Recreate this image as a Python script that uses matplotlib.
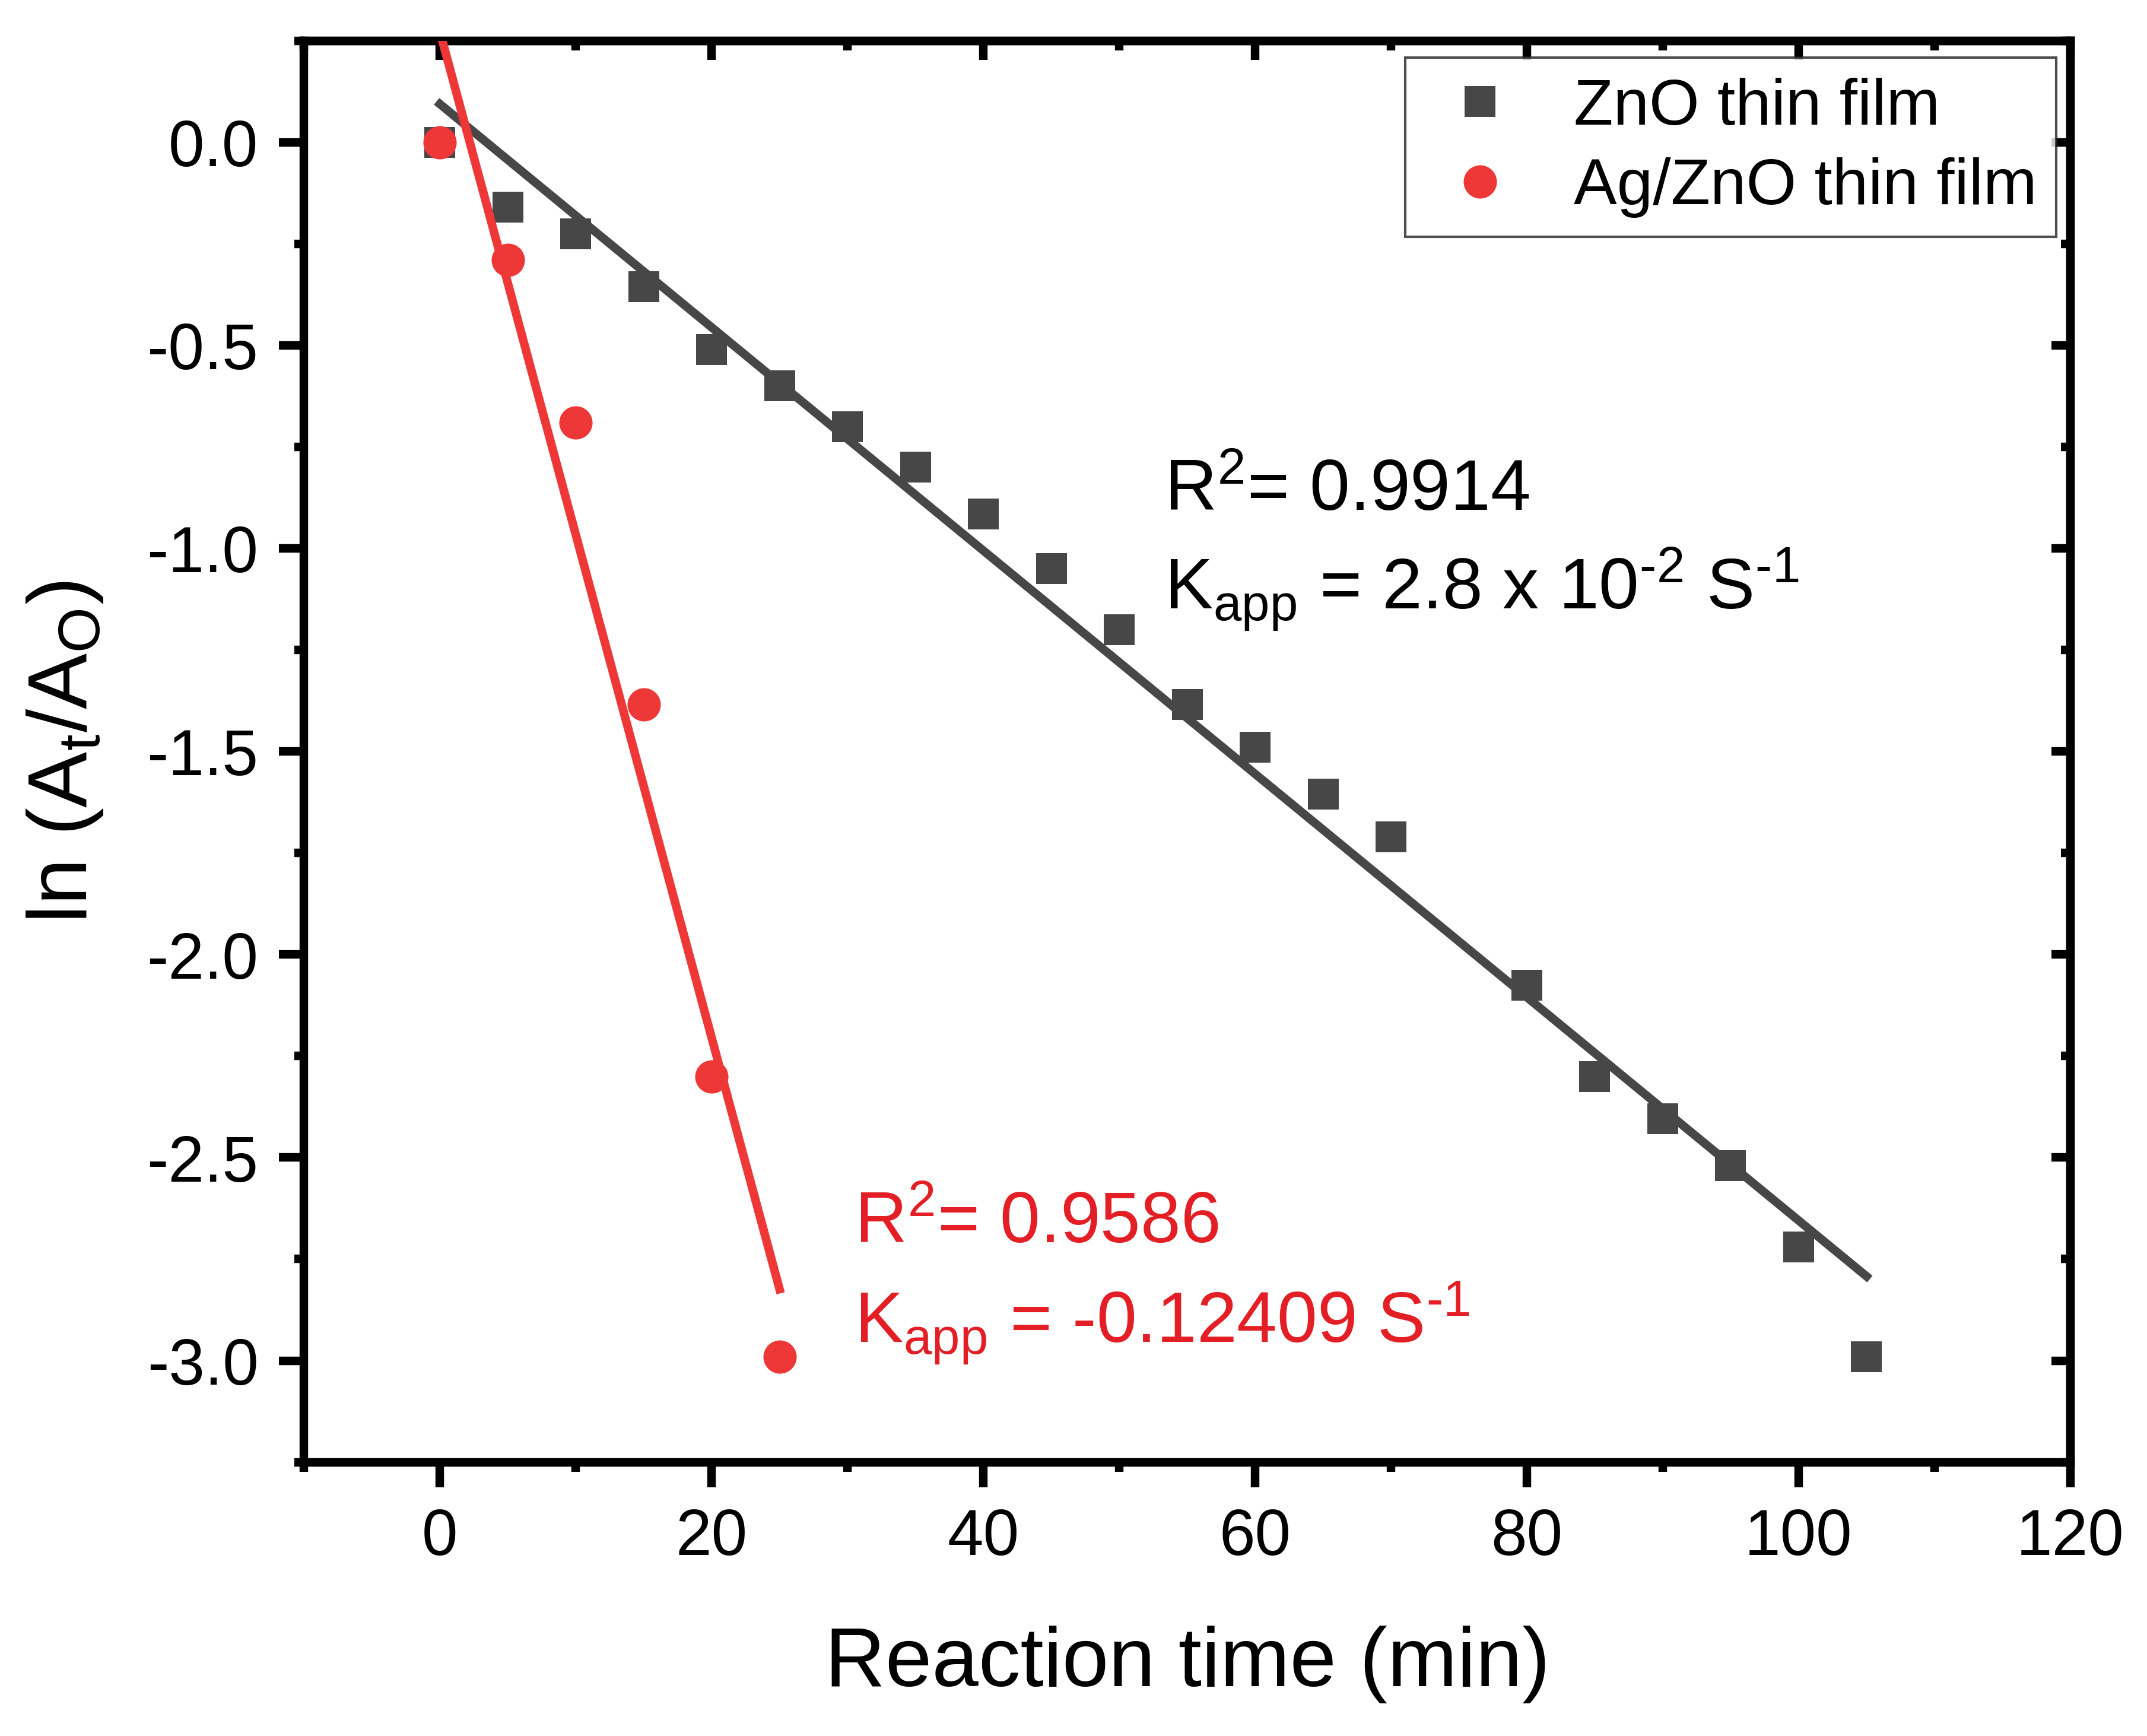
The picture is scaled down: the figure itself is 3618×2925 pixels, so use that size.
import numpy as np
import matplotlib
matplotlib.use('Agg')
from matplotlib import pyplot as plt
from matplotlib.ticker import MultipleLocator

# data
time_zno = [0, 5, 10, 15, 20, 25, 30, 35, 40, 45, 50, 55, 60, 65, 70,
            80, 85, 90, 95, 100, 105]
ln_zno = [0.0, -0.16, -0.225, -0.355, -0.51, -0.60, -0.70, -0.80, -0.915, -1.05,
          -1.20, -1.385, -1.49, -1.605, -1.71, -2.075, -2.30, -2.405, -2.52,
          -2.72, -2.99]

time_ag = [0, 5, 10, 15, 20, 25]
ln_ag = [0.0, -0.29, -0.69, -1.385, -2.30, -2.99]

labels = ['ZnO thin film', 'Ag/ZnO thin film']

# U+2010 hyphen so the exponents keep a short dash like the original
txt_zno = [r'R$^{2}$= 0.9914', 'K$_{app}$ = 2.8 x 10$^{\u20102}$ S$^{\u20101}$']
txt_ag = [r'R$^{2}$= 0.9586', 'K$_{app}$ = -0.12409 S$^{\u20101}$']

gray = '#474747'
red = '#ee3838'
red_txt = '#e41e25'

plt.rcParams['font.family'] = ['Liberation Sans', 'DejaVu Sans']
plt.rcParams['mathtext.default'] = 'regular'
plt.rcParams['axes.unicode_minus'] = False

fig = plt.figure(figsize=(15.68, 12.68))
ax = fig.add_axes([0.1416, 0.1577, 0.8227, 0.8186])

# linear fits
p_zno = np.polyfit(time_zno, ln_zno, 1)
p_ag = np.polyfit(time_ag, ln_ag, 1)
xf_zno = np.array([time_zno[0], time_zno[-1]])
xf_ag = np.array([time_ag[0], time_ag[-1]])

ax.plot(time_zno, ln_zno, 's', color=gray, ms=16, mew=0, label=labels[0], zorder=3)
ax.plot(xf_zno, np.polyval(p_zno, xf_zno), '-', color=gray, lw=4.5, zorder=3)
ax.plot(time_ag, ln_ag, 'o', color=red, ms=17.5, mew=0, label=labels[1], zorder=4)
ax.plot(xf_ag, np.polyval(p_ag, xf_ag), '-', color=red, lw=4.5, zorder=4)

ax.text(53.3, -0.905, txt_zno[0], fontsize=38, color='black', va='baseline')
ax.text(53.3, -1.149, txt_zno[1], fontsize=38, color='black', va='baseline')
ax.text(30.5, -2.708, txt_ag[0], fontsize=38, color=red_txt, va='baseline')
ax.text(30.5, -2.955, txt_ag[1], fontsize=38, color=red_txt, va='baseline')

ax.set_xlim(-10, 120)
ax.set_ylim(-3.25, 0.25)
ax.xaxis.set_major_locator(MultipleLocator(20))
ax.xaxis.set_minor_locator(MultipleLocator(10))
ax.yaxis.set_major_locator(MultipleLocator(0.5))
ax.yaxis.set_minor_locator(MultipleLocator(0.25))
ax.yaxis.set_major_formatter(matplotlib.ticker.FormatStrFormatter('%.1f'))

for s in ax.spines.values():
    s.set_linewidth(4.5)

ax.tick_params(which='major', direction='out', length=13, width=4.5,
               labelsize=34, pad=11)
ax.tick_params(which='minor', direction='out', length=5, width=4.5)

# inward ticks on top and right
top = ax.secondary_xaxis('top')
top.xaxis.set_major_locator(MultipleLocator(20))
top.xaxis.set_minor_locator(MultipleLocator(10))
top.tick_params(which='major', direction='in', length=10, width=4.5, labeltop=False)
top.tick_params(which='minor', direction='in', length=5, width=4.5)
top.spines['top'].set_linewidth(4.5)

right = ax.secondary_yaxis('right')
right.yaxis.set_major_locator(MultipleLocator(0.5))
right.yaxis.set_minor_locator(MultipleLocator(0.25))
right.tick_params(which='major', direction='in', length=10, width=4.5, labelright=False)
right.tick_params(which='minor', direction='in', length=5, width=4.5)
right.spines['right'].set_linewidth(4.5)

ax.set_xlabel('Reaction time (min)', fontsize=44, labelpad=30)
ax.set_ylabel(r'ln (A$_{t}$/A$_{O}$)', fontsize=44, labelpad=22)

leg = ax.legend(loc='upper right', bbox_to_anchor=(0.992, 0.988), borderaxespad=0,
                fontsize=34, frameon=True, fancybox=False, handlelength=1.7,
                handletextpad=0.6, borderpad=0.3, labelspacing=0.3,
                numpoints=1)
leg.get_frame().set_edgecolor('#222222')
leg.get_frame().set_linewidth(1.3)

fig.savefig('out.png', dpi=3618 / 15.68, facecolor='white')
